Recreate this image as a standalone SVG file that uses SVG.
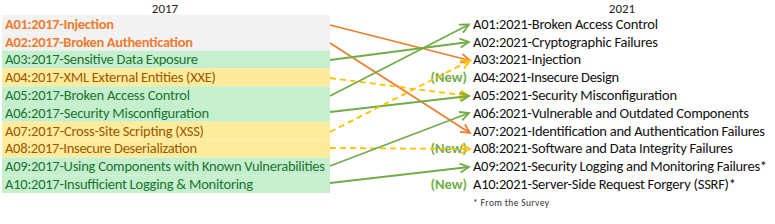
<svg xmlns="http://www.w3.org/2000/svg" width="775" height="224" viewBox="0 0 775 224">
<defs>
<style>
text{font-family:Carlito,Lato,"Liberation Sans",sans-serif;font-size:14.5px;}
.title{fill:#222;font-size:13px;}
.lo{fill:#ED7D31;font-weight:bold;}
.lg{fill:#1A7431;}
.ly{fill:#9C5700;}
.r{fill:#111;}
.new{fill:#70AD47;font-weight:bold;text-anchor:end;}
.note{fill:#333;font-size:9.5px;}
.c{fill:none;stroke-width:1.8;}
.co{stroke:#ED7D31;}
.cg{stroke:#70AD47;}
.cy{stroke:#FFC000;stroke-dasharray:6,4;}
</style>
<marker id="mo" markerWidth="12" markerHeight="12" refX="10" refY="5" orient="auto" markerUnits="userSpaceOnUse"><path d="M1,0.5 L10,5 L1,9.5" fill="none" stroke="#ED7D31" stroke-width="1.8"/></marker>
<marker id="mg" markerWidth="12" markerHeight="12" refX="10" refY="5" orient="auto" markerUnits="userSpaceOnUse"><path d="M1,0.5 L10,5 L1,9.5" fill="none" stroke="#70AD47" stroke-width="1.8"/></marker>
<marker id="my" markerWidth="12" markerHeight="12" refX="10" refY="5" orient="auto" markerUnits="userSpaceOnUse"><path d="M1,0.5 L10,5 L1,9.5" fill="none" stroke="#FFC000" stroke-width="1.8"/></marker>
</defs>
<rect width="775" height="224" fill="#fff"/>
<text class="title" x="165" y="12.5" text-anchor="middle">2017</text>
<text class="title" x="622" y="12.5" text-anchor="middle">2021</text>

<g id="l01"><rect x="2" y="15" width="328" height="17.8" fill="#F2F2F2"/><text class="lo" x="5" y="28.8" textLength="109">A01:2017-Injection</text></g>
<g id="l02"><rect x="2" y="32.8" width="328" height="17.8" fill="#F2F2F2"/><text class="lo" x="5" y="46.6" textLength="188">A02:2017-Broken Authentication</text></g>
<g id="l03"><rect x="2" y="50.6" width="328" height="17.8" fill="#C6EFCE"/><text class="lg" x="5" y="64.4" textLength="193">A03:2017-Sensitive Data Exposure</text></g>
<g id="l04"><rect x="2" y="68.4" width="328" height="17.8" fill="#FFEB9C"/><text class="ly" x="5" y="82.2" textLength="211">A04:2017-XML External Entities (XXE)</text></g>
<g id="l05"><rect x="2" y="86.2" width="328" height="17.8" fill="#C6EFCE"/><text class="lg" x="5" y="100" textLength="185">A05:2017-Broken Access Control</text></g>
<g id="l06"><rect x="2" y="104" width="328" height="17.8" fill="#C6EFCE"/><text class="lg" x="5" y="117.8" textLength="204">A06:2017-Security Misconfiguration</text></g>
<g id="l07"><rect x="2" y="121.8" width="328" height="17.8" fill="#FFEB9C"/><text class="ly" x="5" y="135.6" textLength="199">A07:2017-Cross-Site Scripting (XSS)</text></g>
<g id="l08"><rect x="2" y="139.6" width="328" height="17.8" fill="#FFEB9C"/><text class="ly" x="5" y="153.4" textLength="192">A08:2017-Insecure Deserialization</text></g>
<g id="l09"><rect x="2" y="157.4" width="328" height="17.8" fill="#C6EFCE"/><text class="lg" x="5" y="171.2" textLength="320">A09:2017-Using Components with Known Vulnerabilities</text></g>
<g id="l10"><rect x="2" y="175.2" width="328" height="17.8" fill="#C6EFCE"/><text class="lg" x="5" y="189" textLength="248">A10:2017-Insufficient Logging &amp; Monitoring</text></g>

<g id="r01"><text class="r" x="473" y="28.8" textLength="185">A01:2021-Broken Access Control</text></g>
<g id="r02"><text class="r" x="473" y="46.6" textLength="185">A02:2021-Cryptographic Failures</text></g>
<g id="r03"><text class="r" x="473" y="64.4" textLength="108">A03:2021-Injection</text></g>
<g id="r04"><text class="new" x="467" y="82.2">(New)</text><text class="r" x="473" y="82.2" textLength="146">A04:2021-Insecure Design</text></g>
<g id="r05"><text class="r" x="473" y="100" textLength="204">A05:2021-Security Misconfiguration</text></g>
<g id="r06"><text class="r" x="473" y="117.8" textLength="276">A06:2021-Vulnerable and Outdated Components</text></g>
<g id="r07"><text class="r" x="473" y="135.6" textLength="292">A07:2021-Identification and Authentication Failures</text></g>
<g id="r08"><text class="new" x="467" y="153.4">(New)</text><text class="r" x="473" y="153.4" textLength="260">A08:2021-Software and Data Integrity Failures</text></g>
<g id="r09"><text class="r" x="473" y="171.2" textLength="294">A09:2021-Security Logging and Monitoring Failures*</text></g>
<g id="r10"><text class="new" x="467" y="189">(New)</text><text class="r" x="473" y="189" textLength="263">A10:2021-Server-Side Request Forgery (SSRF)*</text></g>
<g id="note"><text class="note" x="473" y="206" textLength="76">* From the Survey</text></g>

<g id="connectors">
<line class="c co" x1="330" y1="25" x2="470" y2="60.5" marker-end="url(#mo)"/>
<line class="c co" x1="330" y1="43" x2="470" y2="133" marker-end="url(#mo)"/>
<line class="c cg" x1="330" y1="60" x2="469" y2="42" marker-end="url(#mg)"/>
<line class="c cy" x1="330" y1="78" x2="469" y2="96" marker-end="url(#my)"/>
<line class="c cg" x1="330" y1="96" x2="469" y2="24.5" marker-end="url(#mg)"/>
<line class="c cg" x1="330" y1="112" x2="469" y2="96" marker-end="url(#mg)"/>
<line class="c cy" x1="330" y1="132" x2="470" y2="60.5" marker-end="url(#my)"/>
<line class="c cy" x1="330" y1="148" x2="470" y2="149" marker-end="url(#my)"/>
<line class="c cg" x1="330" y1="166" x2="469" y2="113" marker-end="url(#mg)"/>
<line class="c cg" x1="330" y1="183" x2="469" y2="167" marker-end="url(#mg)"/>
</g>
</svg>
